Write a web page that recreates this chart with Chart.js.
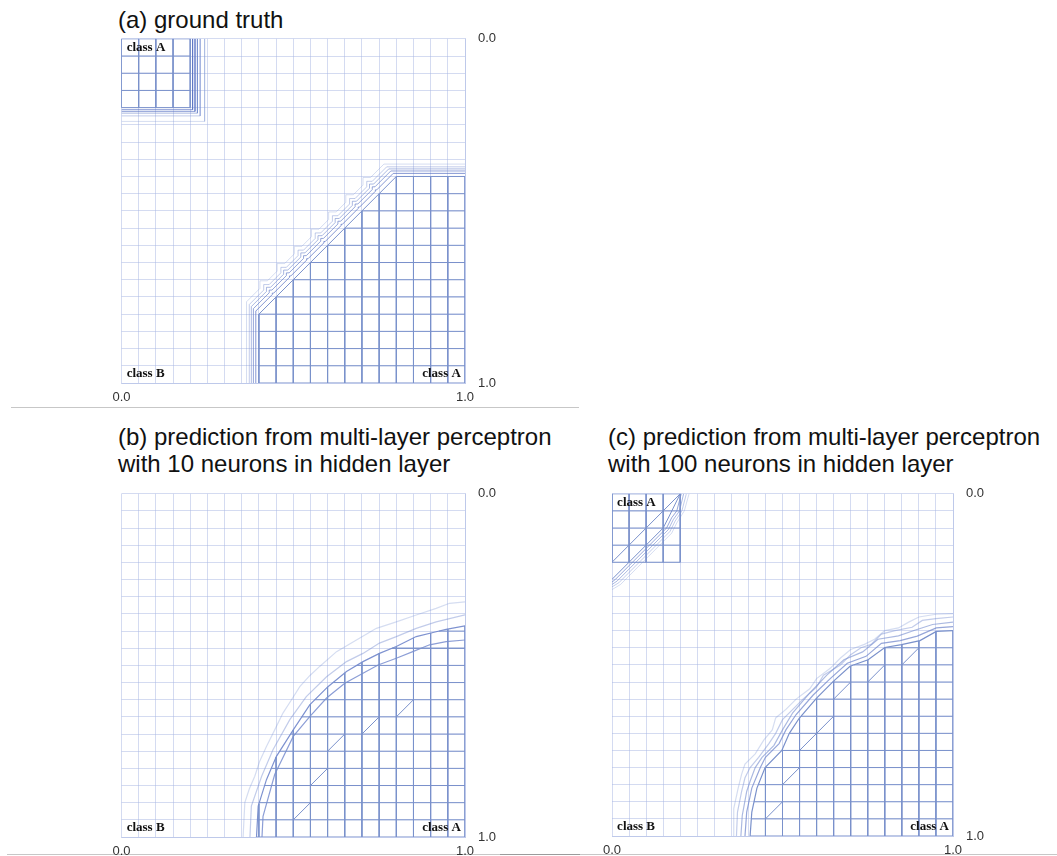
<!DOCTYPE html>
<html><head><meta charset="utf-8">
<script src="https://cdn.jsdelivr.net/npm/chart.js@4.4.1/dist/chart.umd.min.js"></script>
<style>
body{margin:0;background:#fff;width:1057px;height:856px;position:relative;overflow:hidden;font-family:"Liberation Sans",Arial,Helvetica,sans-serif;}
.title{position:absolute;font-size:24px;line-height:27px;color:#111;white-space:nowrap}
.sep{position:absolute;height:1px;background:rgba(0,0,0,0.22)}
canvas{position:absolute}
</style></head><body>
<div class="title" style="left:118px;top:6px">(a) ground truth</div>
<div class="title" style="left:118px;top:423px">(b) prediction from multi-layer perceptron<br>with 10 neurons in hidden layer</div>
<div class="title" style="left:608px;top:423px">(c) prediction from multi-layer perceptron<br>with 100 neurons in hidden layer</div>
<div class="sep" style="left:11px;top:407px;width:568px"></div>
<div class="sep" style="left:7px;top:854px;width:573px"></div>
<div class="sep" style="left:500px;top:854px;width:557px"></div>
<canvas id="ca" width="405" height="395" style="left:100px;top:18px"></canvas>
<canvas id="cb" width="405" height="394" style="left:100px;top:473px"></canvas>
<canvas id="cc" width="403" height="393" style="left:590px;top:473px"></canvas>
<script>
// ---------------- DATA ----------------
const gridValues = [0,0.05,0.1,0.15,0.2,0.25,0.3,0.35,0.4,0.45,0.5,0.55,0.6,0.65,0.7,0.75,0.8,0.85,0.9,0.95,1];
const tickLabels = ['0.0','1.0'];
const classNames = ['class A','class B'];

// (a) ground truth
const aBoxA = [[0,0],[0.2,0],[0.2,0.2],[0,0.2]];
const aRegionA = [[0.4,1],[0.4,0.8],[0.45,0.75],[0.5,0.7],[0.55,0.65],[0.6,0.6],[0.65,0.55],[0.7,0.5],[0.75,0.45],[0.8,0.4],[1,0.4],[1,1]];
const aBoxContours = [
  [[0.207,0],[0.207,0.206],[0,0.206]],
  [[0.214,0],[0.214,0.211],[0,0.211]],
  [[0.221,0],[0.221,0.216],[0,0.216]],
  [[0.229,0],[0.229,0.224],[0,0.224]],
  [[0.242,0],[0.242,0.240],[0,0.240]]
];
const aRegionOffsets = [0.009,0.016,0.022,0.028,0.036];
const aRegionNotches = [0.002,0.004,0.006,0.008,0.011];

// (b) 10 hidden neurons
const bCurves = [
  [[0.354,1.0],[0.359,0.90],[0.372,0.86],[0.388,0.823],[0.402,0.78],[0.422,0.736],[0.445,0.69],[0.470,0.639],[0.495,0.60],[0.519,0.562],[0.548,0.53],[0.577,0.503],[0.626,0.46],[0.684,0.426],[0.742,0.392],[0.8,0.373],[0.858,0.353],[0.916,0.334],[0.955,0.319],[1.0,0.315]],
  [[0.374,1.0],[0.378,0.91],[0.408,0.823],[0.441,0.746],[0.49,0.658],[0.538,0.591],[0.597,0.533],[0.655,0.489],[0.703,0.465],[0.751,0.435],[0.80,0.416],[0.858,0.392],[0.916,0.373],[1.0,0.353]],
  [[0.393,1.0],[0.398,0.91],[0.422,0.833],[0.451,0.765],[0.5,0.688],[0.548,0.615],[0.601,0.562],[0.655,0.518],[0.703,0.489],[0.751,0.465],[0.8,0.445],[0.858,0.416],[0.916,0.402],[0.945,0.395],[1.0,0.385]],
  [[0.409,1.0],[0.412,0.94],[0.446,0.818],[0.5,0.707],[0.548,0.649],[0.597,0.595],[0.65,0.552],[0.703,0.523],[0.747,0.499],[0.8,0.479],[0.848,0.46],[0.897,0.44],[0.945,0.431],[1.0,0.426]]
];
const bBoundaryIndex = 2;
const bDiagonals = [[[0.5,0.95],[0.55,0.9]],[[0.55,0.85],[0.6,0.8]],[[0.6,0.75],[0.65,0.7]],[[0.7,0.7],[0.75,0.65]],[[0.8,0.65],[0.85,0.6]]];

// (c) 100 hidden neurons
const cBoxA = [[0,0],[0.2,0],[0.2,0.2],[0,0.2]];
const cTopCurves = [
  [[0,0.28],[0.025,0.265],[0.05,0.24],[0.075,0.215],[0.1,0.19],[0.125,0.165],[0.15,0.14],[0.175,0.115],[0.19,0.085],[0.212,0.05],[0.226,0.0]],
  [[0,0.272],[0.02,0.26],[0.05,0.23],[0.07,0.21],[0.1,0.18],[0.12,0.16],[0.15,0.13],[0.17,0.11],[0.185,0.08],[0.205,0.05],[0.218,0.0]],
  [[0,0.265],[0.015,0.255],[0.05,0.22],[0.065,0.205],[0.1,0.17],[0.115,0.155],[0.15,0.12],[0.165,0.105],[0.18,0.075],[0.198,0.05],[0.21,0.0]],
  [[0,0.258],[0.01,0.25],[0.05,0.21],[0.06,0.2],[0.1,0.16],[0.11,0.15],[0.15,0.11],[0.16,0.1],[0.175,0.07],[0.19,0.05],[0.203,0.0]],
  [[0,0.25],[0.05,0.2],[0.1,0.15],[0.15,0.1],[0.168,0.065],[0.2,0.0]]
];
const cCurves = [
  [[0.355,1.0],[0.357,0.92],[0.37,0.86],[0.38,0.82],[0.39,0.79],[0.42,0.76],[0.445,0.72],[0.47,0.69],[0.48,0.655],[0.51,0.63],[0.54,0.60],[0.58,0.57],[0.6,0.54],[0.64,0.51],[0.67,0.48],[0.7,0.455],[0.74,0.44],[0.77,0.425],[0.8,0.40],[0.84,0.392],[0.87,0.375],[0.9,0.36],[0.95,0.352],[1.0,0.35]],
  [[0.365,1.0],[0.368,0.93],[0.38,0.87],[0.39,0.83],[0.405,0.80],[0.43,0.77],[0.46,0.73],[0.48,0.70],[0.5,0.66],[0.52,0.64],[0.56,0.60],[0.6,0.565],[0.62,0.53],[0.67,0.50],[0.7,0.47],[0.73,0.45],[0.76,0.44],[0.79,0.41],[0.83,0.40],[0.88,0.39],[0.91,0.37],[0.95,0.365],[1.0,0.36]],
  [[0.378,1.0],[0.382,0.94],[0.395,0.87],[0.405,0.84],[0.42,0.80],[0.44,0.77],[0.475,0.735],[0.5,0.69],[0.53,0.64],[0.58,0.582],[0.63,0.53],[0.68,0.485],[0.735,0.462],[0.78,0.425],[0.84,0.415],[0.89,0.398],[0.94,0.382],[1.0,0.375]],
  [[0.39,1.0],[0.395,0.93],[0.41,0.86],[0.435,0.80],[0.45,0.77],[0.49,0.73],[0.51,0.69],[0.54,0.645],[0.59,0.588],[0.64,0.54],[0.69,0.495],[0.745,0.475],[0.79,0.437],[0.845,0.429],[0.895,0.416],[0.951,0.392],[1.0,0.388]],
  [[0.405,1.0],[0.41,0.93],[0.425,0.86],[0.449,0.80],[0.498,0.75],[0.52,0.70],[0.549,0.656],[0.600,0.597],[0.649,0.548],[0.698,0.504],[0.751,0.485],[0.800,0.449],[0.849,0.441],[0.903,0.429],[0.951,0.402],[1.0,0.400]]
];
const cDiagonals = [[[0,0.2],[0.2,0]],[[0.45,0.95],[0.5,0.9]],[[0.5,0.85],[0.55,0.8]],[[0.55,0.75],[0.65,0.65]],[[0.65,0.6],[0.7,0.55]],[[0.75,0.55],[0.8,0.5]],[[0.85,0.5],[0.9,0.45]]];

// ---------------- STYLE ----------------
const gridColor = 'rgba(165,180,225,0.48)';
const darkColor = '#7a91cb';
const lightLevels = ['rgba(125,148,212,0.32)','rgba(115,140,208,0.44)','rgba(105,130,202,0.56)','rgba(95,120,198,0.66)','rgba(90,115,195,0.74)'];
const tickFont = {family:'"Liberation Sans", Arial, Helvetica, sans-serif', size:13};

// ---------------- HELPERS ----------------
function clipIntervals(poly, vertical, v){
  const out = [];
  const seen = new Set();
  [v - 1e-7, v + 1e-7].forEach(vv => {
    const hits = [];
    for (let i = 0; i < poly.length; i++){
      const p = poly[i], q = poly[(i+1) % poly.length];
      const a = vertical ? p[0] : p[1], b = vertical ? q[0] : q[1];
      if ((a <= vv) !== (b <= vv)){
        const t = (vv - a) / (b - a);
        hits.push(vertical ? p[1] + t*(q[1]-p[1]) : p[0] + t*(q[0]-p[0]));
      }
    }
    hits.sort((m,n) => m-n);
    for (let i = 0; i + 1 < hits.length; i += 2){
      const key = hits[i].toFixed(4) + '_' + hits[i+1].toFixed(4);
      if (!seen.has(key)){ seen.add(key); out.push([hits[i], hits[i+1]]); }
    }
  });
  return out;
}
function innerGrid(polys){
  const segs = [];
  polys.forEach(poly => {
    gridValues.forEach(v => {
      clipIntervals(poly, true, v).forEach(([s,e]) => segs.push([[v,s],[v,e]]));
      clipIntervals(poly, false, v).forEach(([s,e]) => segs.push([[s,v],[e,v]]));
    });
  });
  return segs;
}
function outlineOnly(poly){
  // boundary edges that are not on the chart border
  const segs = [];
  for (let i = 0; i < poly.length; i++){
    const p = poly[i], q = poly[(i+1) % poly.length];
    const onBorder = (p[0]===q[0] && (p[0]===0||p[0]===1)) || (p[1]===q[1] && (p[1]===0||p[1]===1));
    const onGrid = (p[0]===q[0] && gridValues.includes(p[0])) || (p[1]===q[1] && gridValues.includes(p[1]));
    if (!onBorder && !onGrid) segs.push([p,q]);
  }
  return segs;
}
function lines(segs, color, width){
  const data = [];
  segs.forEach(s => { s.forEach(p => data.push({x:p[0], y:p[1]})); data.push({x:null, y:null}); });
  return {data, showLine:true, borderColor:color, borderWidth:width||1, pointRadius:0, pointHoverRadius:0, spanGaps:false, tension:0};
}
function notchedContour(d, n){
  const v = aRegionA.slice(1, 10); // diagonal vertices of the ground-truth boundary
  const pts = [[v[0][0]-d, 1], [v[0][0]-d, v[0][1]-d]];
  for (let i = 1; i < v.length - 1; i++){
    const x = v[i][0]-d, y = v[i][1]-d;
    pts.push([x-n, y+n], [x-n, y-n], [x+n, y-n]);
  }
  const last = v[v.length-1];
  pts.push([last[0]-d, last[1]-d], [1, last[1]-d]);
  return pts;
}
function tickLabel(v){
  if (Math.abs(v) < 1e-9) return tickLabels[0];
  if (Math.abs(v-1) < 1e-9) return tickLabels[1];
  return '';
}
const classLabelPlugin = {
  id:'classLabels',
  afterDatasetsDraw(chart, args, opts){
    const {ctx, scales:{x, y}} = chart;
    ctx.save();
    ctx.font = 'bold 13px "Liberation Serif", "Times New Roman", serif';
    ctx.fillStyle = '#111';
    ctx.textBaseline = 'middle';
    (opts.items || []).forEach(it => {
      ctx.textAlign = it.align;
      ctx.fillText(it.text, x.getPixelForValue(it.x), y.getPixelForValue(it.y));
    });
    ctx.restore();
  }
};
const labelTopA = {text:classNames[0], x:0.015, y:0.026, align:'left'};
const labelB = {text:classNames[1], x:0.015, y:0.972, align:'left'};
const labelA = {text:classNames[0], x:0.988, y:0.972, align:'right'};
function makePanel(id, pad, datasets, items){
  return new Chart(document.getElementById(id), {
    type:'scatter',
    data:{datasets},
    options:{
      responsive:false, animation:false, events:[],
      layout:{padding:pad},
      plugins:{legend:{display:false}, tooltip:{enabled:false}, classLabels:{items}},
      scales:{
        x:{type:'linear', min:0, max:1, position:'bottom',
          afterFit(s){ s.height = 30; },
          ticks:{stepSize:0.05, autoSkip:false, maxRotation:0, padding:7, color:'#333', font:tickFont, callback:tickLabel},
          grid:{color:gridColor, lineWidth:1, drawTicks:false}, border:{display:true, color:gridColor}},
        y:{type:'linear', min:0, max:1, position:'right', reverse:true,
          afterFit(s){ s.width = 40; },
          ticks:{stepSize:0.05, autoSkip:false, padding:13, color:'#333', font:tickFont, callback:tickLabel},
          grid:{color:gridColor, lineWidth:1, drawTicks:false}, border:{display:true, color:gridColor}}
      }
    },
    plugins:[classLabelPlugin]
  });
}

// ---------------- PANELS ----------------
const aSets = [lines(innerGrid([aBoxA, aRegionA]).concat(outlineOnly(aRegionA)), darkColor, 1)];
aBoxContours.forEach((c, i) => aSets.push(lines([c], lightLevels[4-i], 1)));
aRegionOffsets.forEach((d, i) => aSets.push(lines([notchedContour(d, aRegionNotches[i])], lightLevels[4-i], 1)));
makePanel('ca', {left:21.5, top:20, right:0, bottom:0}, aSets, [labelTopA, labelB, labelA]);

const bRegion = bCurves[bBoundaryIndex].concat([[1,1]]);
const bSets = [lines(innerGrid([bRegion]), darkColor, 1)];
const bColors = [lightLevels[0], lightLevels[1], 'rgba(90,115,195,0.78)', 'rgba(95,120,198,0.72)'];
bCurves.forEach((c, i) => bSets.push(lines([c], bColors[i], 1.2)));
bSets.push(lines(bDiagonals, darkColor, 1));
makePanel('cb', {left:21.5, top:20, right:0, bottom:0}, bSets, [labelB, labelA]);

const cRegion = cCurves[cCurves.length-1].concat([[1,1]]);
const cSets = [lines(innerGrid([cBoxA, cRegion]), darkColor, 1)];
cTopCurves.forEach((c, i) => cSets.push(lines([c], i === cTopCurves.length-1 ? darkColor : lightLevels[i], 1)));
cCurves.forEach((c, i) => cSets.push(lines([c], i === cCurves.length-1 ? darkColor : lightLevels[i], 1.2)));
cSets.push(lines(cDiagonals, darkColor, 1));
makePanel('cc', {left:22, top:20, right:0, bottom:0}, cSets, [labelTopA, labelB, labelA]);
</script>
</body></html>
